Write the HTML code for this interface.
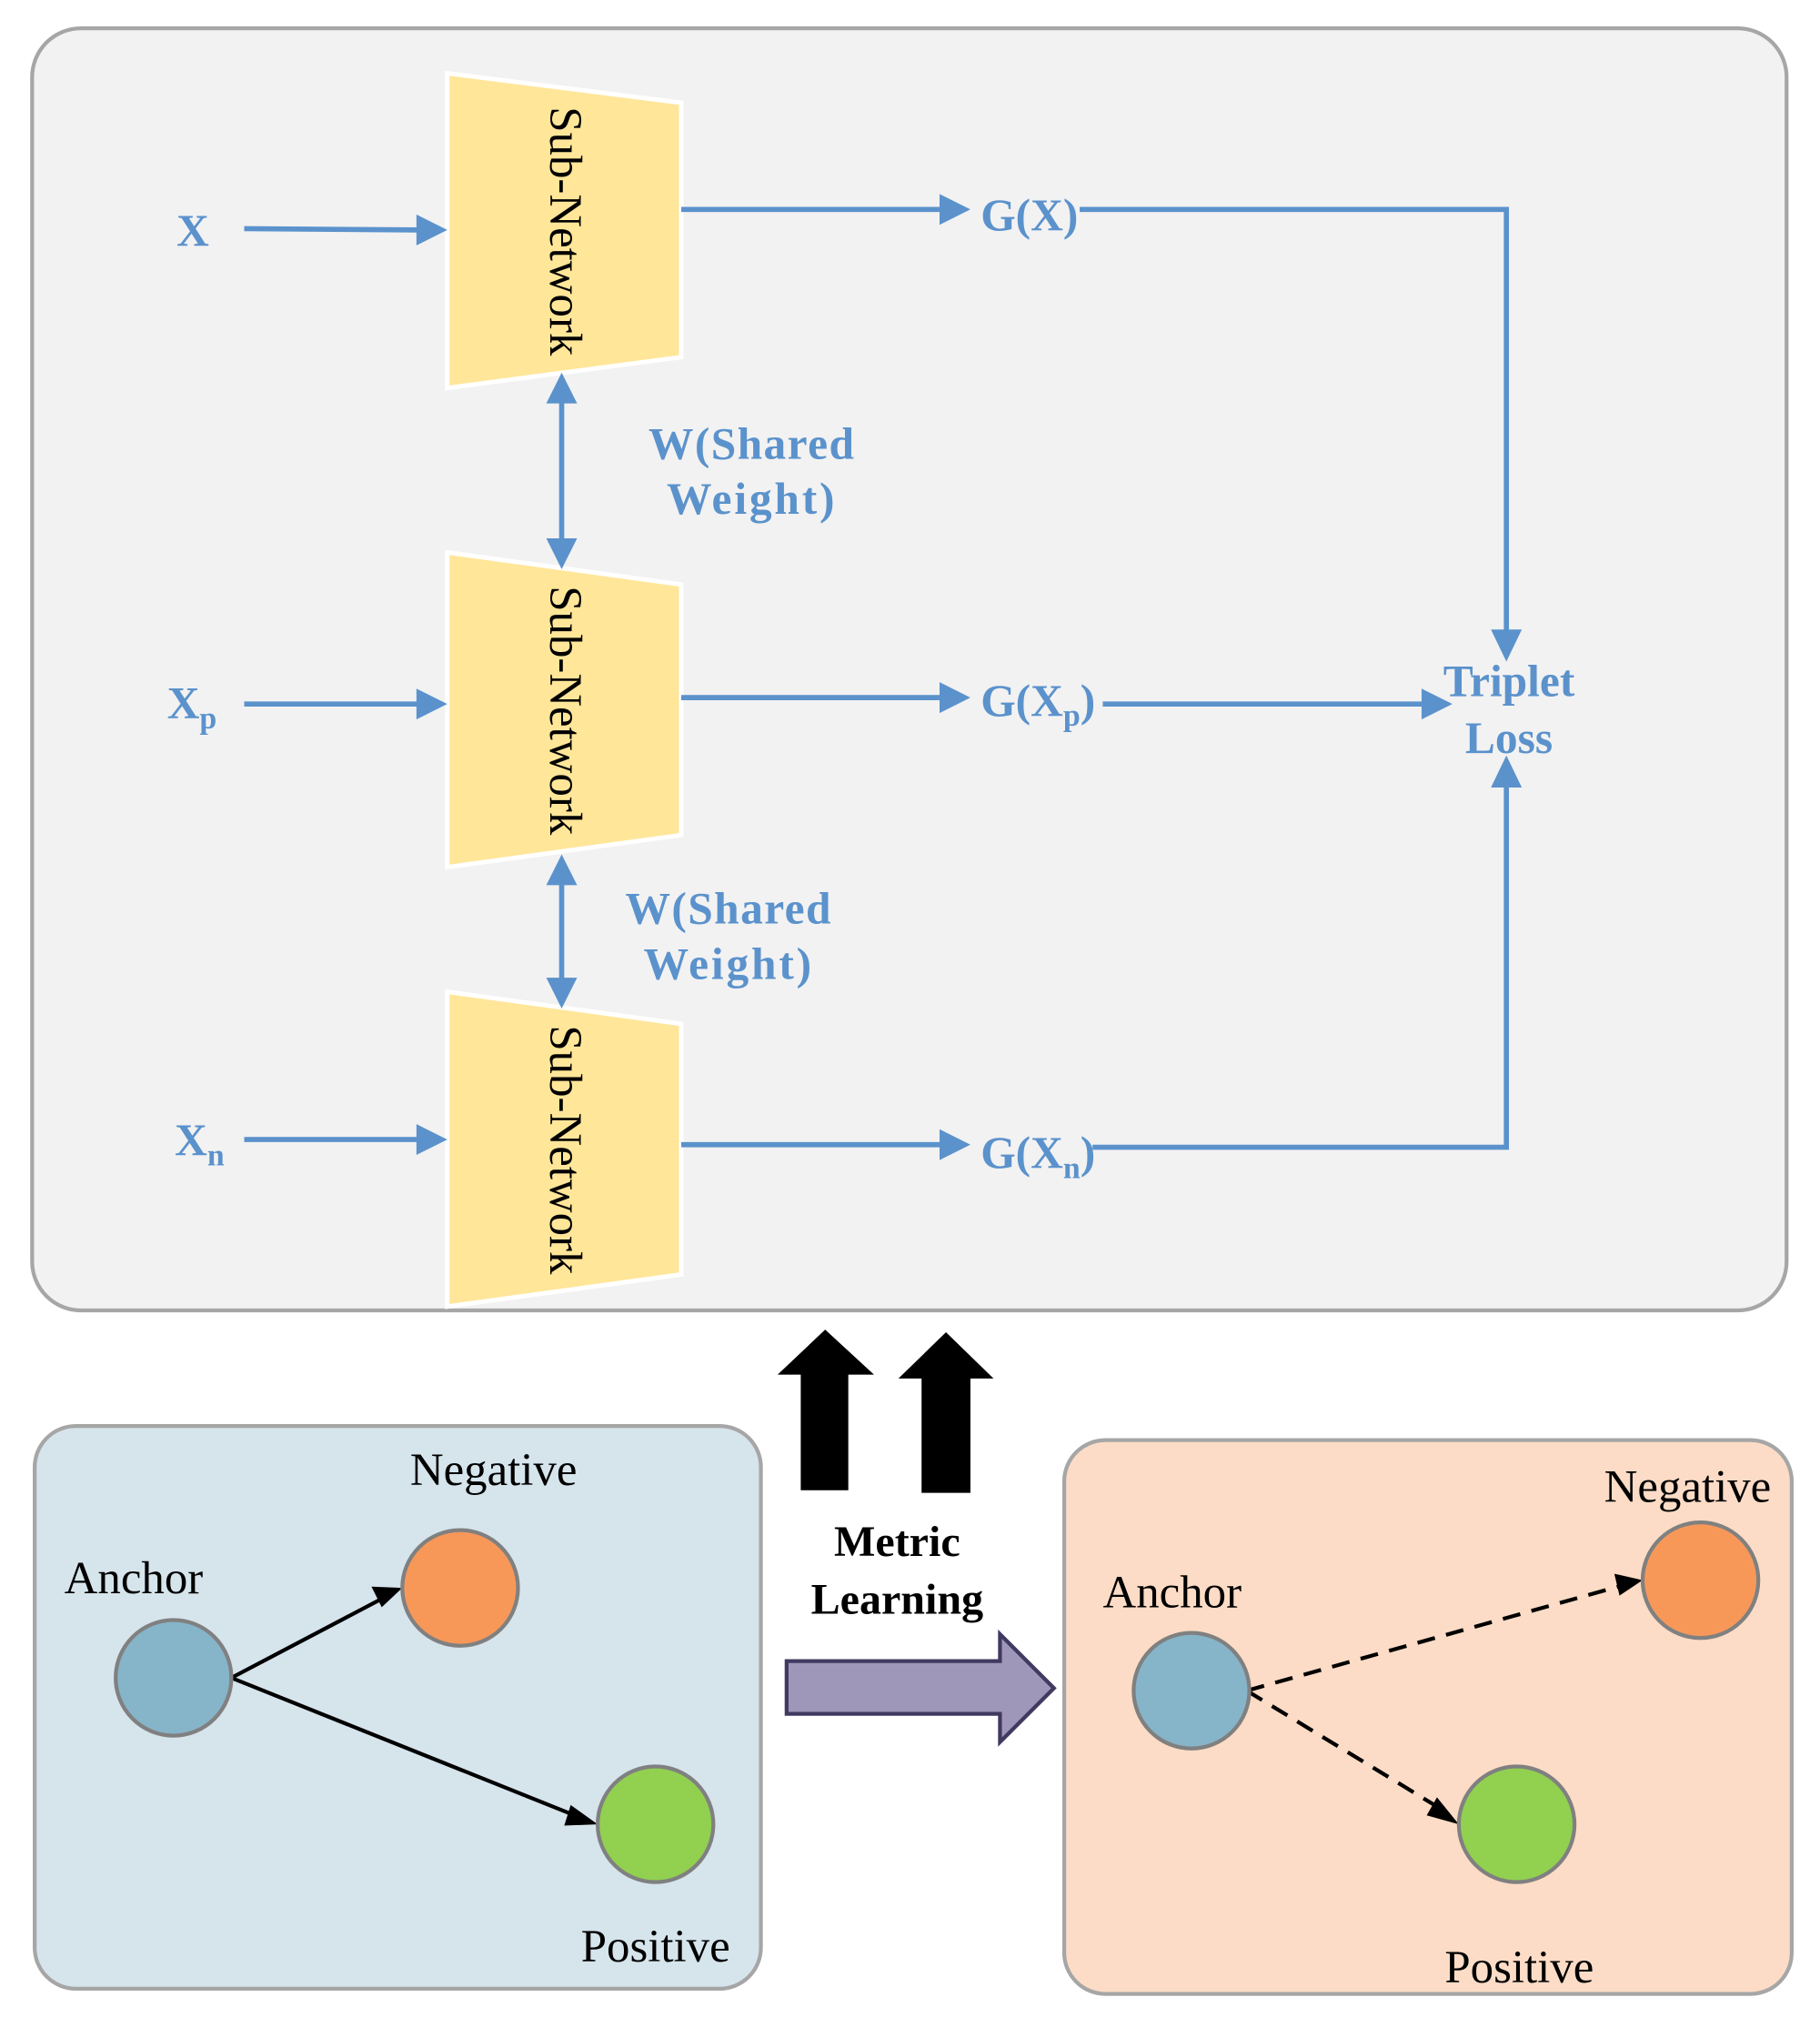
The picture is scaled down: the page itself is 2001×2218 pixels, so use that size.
<!DOCTYPE html>
<html><head><style>html,body{margin:0;padding:0;background:#fff}svg{display:block}</style></head>
<body>
<svg width="2001" height="2218" viewBox="0 0 1416 1570" preserveAspectRatio="none" xmlns="http://www.w3.org/2000/svg">
<rect x="25" y="22" width="1365" height="998" rx="38" fill="#f2f2f2" stroke="#a6a6a6" stroke-width="3"/>
<g fill="#ffe699" stroke="#fff" stroke-width="3.5">
<polygon points="348,57 530,80 530,278 348,302"/>
<polygon points="348,430 530,455 530,650 348,675"/>
<polygon points="348,772 530,797 530,992 348,1017"/>
</g>
<g font-family="Liberation Serif, serif" font-size="36" fill="#000">
<text transform="translate(428,180) rotate(90)" text-anchor="middle">Sub-Network</text>
<text transform="translate(428,553) rotate(90)" text-anchor="middle">Sub-Network</text>
<text transform="translate(428,895) rotate(90)" text-anchor="middle">Sub-Network</text>
</g>
<g stroke="#5b92cc" stroke-width="4" fill="none">
<line x1="190" y1="178" x2="326" y2="179"/>
<line x1="190" y1="548" x2="326" y2="548"/>
<line x1="190" y1="887" x2="326" y2="887"/>
<line x1="530" y1="163" x2="733" y2="163"/>
<line x1="530" y1="543" x2="733" y2="543"/>
<line x1="530" y1="891" x2="733" y2="891"/>
<polyline points="840,163 1172,163 1172,492"/>
<line x1="858" y1="548" x2="1108" y2="548"/>
<polyline points="850,893 1172,893 1172,610"/>
<line x1="437" y1="312" x2="437" y2="421"/>
<line x1="437" y1="687" x2="437" y2="763"/>
</g>
<g fill="#5b92cc">
<polygon points="348,179 324,167 324,191"/>
<polygon points="348,548 324,536 324,560"/>
<polygon points="348,887 324,875 324,899"/>
<polygon points="755,163 731,151 731,175"/>
<polygon points="755,543 731,531 731,555"/>
<polygon points="755,891 731,879 731,903"/>
<polygon points="1172,515 1160,490 1184,490"/>
<polygon points="1130,548 1106,536 1106,560"/>
<polygon points="1172,588 1160,613 1184,613"/>
<polygon points="437,290 425,314 449,314"/>
<polygon points="437,443 425,419 449,419"/>
<polygon points="437,665 425,689 449,689"/>
<polygon points="437,785 425,761 449,761"/>
</g>
<g font-family="Liberation Serif, serif" font-weight="bold" font-size="35" fill="#5b92cc">
<text x="150" y="191" text-anchor="middle">X</text>
<text x="130" y="559">X<tspan font-size="24" dy="8">p</tspan></text>
<text x="136" y="899">X<tspan font-size="24" dy="8">n</tspan></text>
<text x="763" y="179">G(X)</text>
<text x="763" y="557">G(X<tspan font-size="24" dy="8">p</tspan><tspan dy="-8">)</tspan></text>
<text x="763" y="909">G(X<tspan font-size="24" dy="8">n</tspan><tspan dy="-8">)</tspan></text>
<text x="1174" y="542" text-anchor="middle">Triplet</text>
<text x="1174" y="586" text-anchor="middle">Loss</text>
<text x="585" y="357" text-anchor="middle" letter-spacing="1">W(Shared</text>
<text x="585" y="400" text-anchor="middle" letter-spacing="2">Weight)</text>
<text x="567" y="719" text-anchor="middle" letter-spacing="1">W(Shared</text>
<text x="567" y="762" text-anchor="middle" letter-spacing="2">Weight)</text>
</g>
<g fill="#000">
<polygon points="642,1035 680,1070 660,1070 660,1160 623,1160 623,1070 605,1070"/>
<polygon points="736,1037 773,1073 755,1073 755,1162 717,1162 717,1073 699,1073"/>
</g>
<g font-family="Liberation Serif, serif" font-weight="bold" font-size="34" fill="#000" text-anchor="middle">
<text x="698" y="1211">Metric</text>
<text x="698" y="1256">Learning</text>
</g>
<polygon points="612,1293 778,1293 778,1272 820,1314 778,1356 778,1334 612,1334" fill="#9f97b9" stroke="#403a60" stroke-width="3"/>
<rect x="27" y="1110" width="565" height="438" rx="32" fill="#d6e4ec" stroke="#a6a6a6" stroke-width="3"/>
<rect x="828" y="1121" width="566" height="431" rx="32" fill="#fcdcc6" stroke="#a6a6a6" stroke-width="3"/>
<g stroke="#000" stroke-width="3">
<line x1="180" y1="1306" x2="296" y2="1245"/>
<line x1="180" y1="1306" x2="447" y2="1413"/>
<line x1="970" y1="1316" x2="1259" y2="1235" stroke-dasharray="14,9"/>
<line x1="970" y1="1316" x2="1121" y2="1408" stroke-dasharray="14,9"/>
</g>
<g fill="#000">
<polygon points="313,1236 289,1235 297,1251"/>
<polygon points="465,1420 444,1405 439,1421"/>
<polygon points="1278,1230 1256,1225 1260,1242"/>
<polygon points="1135,1420 1118,1399 1110,1413"/>
</g>
<g stroke="#808080" stroke-width="3">
<circle cx="135" cy="1306" r="45" fill="#86b4c9"/>
<circle cx="358" cy="1236" r="45" fill="#f79859"/>
<circle cx="510" cy="1420" r="45" fill="#92d050"/>
<circle cx="927" cy="1316" r="45" fill="#86b4c9"/>
<circle cx="1323" cy="1230" r="45" fill="#f79859"/>
<circle cx="1180" cy="1420" r="45" fill="#92d050"/>
</g>
<g font-family="Liberation Serif, serif" font-size="36" fill="#000" text-anchor="middle">
<text x="104" y="1240">Anchor</text>
<text x="384" y="1156">Negative</text>
<text x="510" y="1527">Positive</text>
<text x="912" y="1251">Anchor</text>
<text x="1313" y="1169">Negative</text>
<text x="1182" y="1543">Positive</text>
</g>
</svg>
</body></html>
